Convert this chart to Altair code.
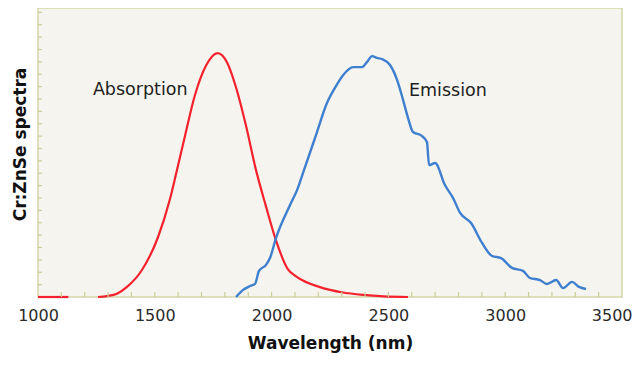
import altair as alt
import pandas as pd

# Absorption (red) — wavelength (nm) and relative intensity
abs_wl = [1000, 1130, 1257, 1295, 1340, 1381, 1445, 1514, 1565, 1595, 1630, 1672,
          1720, 1769, 1810, 1851, 1890, 1933, 1976, 2017, 2070, 2100, 2130, 2220, 2300,
          2391, 2480, 2584]
abs_val = [0.0, 0.0, 0.0, 0.003, 0.012, 0.034, 0.091, 0.202, 0.330, 0.428, 0.545, 0.680,
           0.780, 0.821, 0.789, 0.697, 0.578, 0.428, 0.305, 0.195, 0.093, 0.072, 0.057, 0.030,
           0.016, 0.007, 0.002, 0.0]
abs_part = [0, 0] + [1] * 26

# Emission (blue)
emi_wl = [1848, 1878, 1908, 1929, 1946, 1976, 1993, 2019, 2079, 2109, 2139, 2190,
          2237, 2271, 2306, 2349, 2387, 2408, 2430, 2451, 2473, 2507, 2537, 2563,
          2584, 2605, 2644, 2665, 2674, 2700, 2742, 2777, 2807, 2854, 2901, 2944,
          2982, 3029, 3076, 3106, 3149, 3179, 3218, 3248, 3286, 3316, 3346]
emi_val = [0.0, 0.024, 0.037, 0.044, 0.088, 0.108, 0.131, 0.199, 0.310, 0.360, 0.428, 0.545,
           0.653, 0.704, 0.747, 0.774, 0.774, 0.791, 0.811, 0.805, 0.801, 0.781, 0.731, 0.663,
           0.603, 0.556, 0.542, 0.522, 0.444, 0.451, 0.377, 0.333, 0.283, 0.249, 0.182, 0.138,
           0.131, 0.098, 0.088, 0.064, 0.057, 0.044, 0.057, 0.030, 0.051, 0.034, 0.027]

labels = ["Absorption", "Emission"]
label_wl = [1235, 2588]
label_val = [0.680, 0.677]

x_ticks = list(range(1100, 3500, 100))
x_labels = [1000, 1500, 2000, 2500, 3000, 3500]
y_ticks = [i / 24 for i in range(1, 24)]

abs_df = pd.DataFrame({"wl": abs_wl, "val": abs_val, "part": abs_part})
emi_df = pd.DataFrame({"wl": emi_wl, "val": emi_val})
lab_df = pd.DataFrame({"label": labels, "wl": label_wl, "val": label_val})
xtick_df = pd.DataFrame({"wl": x_ticks})
ytick_df = pd.DataFrame({"val": y_ticks})

FONT = "DejaVu Sans"
TICK_COLOR = "#c9cf98"
PLOT_H = 289
TOP = PLOT_H / 297  # visible fraction of the reference's value range

x_scale = alt.Scale(domain=[1000, 3500], nice=False)
y_scale = alt.Scale(domain=[0, TOP], nice=False)

x_enc = alt.X(
    "wl:Q",
    scale=x_scale,
    axis=alt.Axis(
        title="Wavelength (nm)",
        values=x_labels,
        format="d",
        ticks=False,
        domain=False,
        grid=False,
        labelFont=FONT,
        labelFontSize=16,
        labelColor="#2a2a2a",
        labelFlush=False,
        labelOverlap=False,
        labelBound=False,
        labelBaseline="alphabetic",
        labelAlign={"expr": "datum.value === 3500 ? 'right' : 'center'"},
        labelOffset={"expr": "datum.value === 3500 ? 10 : 0"},
        labelPadding=23,
        titleFont=FONT,
        titleFontSize=17,
        titleFontWeight="bold",
        titleColor="#111111",
        titleBaseline="alphabetic",
        titleY=51,
    ),
)

y_enc = alt.Y(
    "val:Q",
    scale=y_scale,
    axis=alt.Axis(
        title="Cr:ZnSe spectra",
        labels=False,
        ticks=False,
        domain=False,
        grid=False,
        titleFont=FONT,
        titleFontSize=17,
        titleFontWeight="bold",
        titleColor="#111111",
        titleBaseline="alphabetic",
        titleAlign="center",
        titleX=-13,
        titleY=136,
    ),
)

xticks = alt.Chart(xtick_df).mark_rule(color=TICK_COLOR, strokeWidth=1.2).encode(
    x=alt.X("wl:Q", scale=x_scale),
    y=alt.value(PLOT_H),
    y2=alt.value(PLOT_H - 5),
)
yticks = alt.Chart(ytick_df).mark_rule(color=TICK_COLOR, strokeWidth=1.2).encode(
    y=alt.Y("val:Q", scale=y_scale),
    x=alt.value(0),
    x2=alt.value(4),
)

abs_line = alt.Chart(abs_df).mark_line(
    color="#f5222d", strokeWidth=2.2, interpolate="monotone"
).encode(x=x_enc, y=y_enc, detail="part:N")

emi_line = alt.Chart(emi_df).mark_line(
    color="#3f7fcf", strokeWidth=2.4, interpolate="monotone"
).encode(x="wl:Q", y="val:Q")

text = alt.Chart(lab_df).mark_text(
    font=FONT, fontSize=17.5, color="#1e1e1e", align="left", baseline="alphabetic"
).encode(x="wl:Q", y="val:Q", text="label:N")

chart = (
    alt.layer(abs_line, xticks, yticks, emi_line, text)
    .properties(
        width=584,
        height=PLOT_H,
        autosize=alt.AutoSizeParams(type="none"),
        padding={"left": 30, "top": 0, "right": 10, "bottom": 62},
        background="white",
    )
    .configure_view(fill="#f5f4ee", stroke="#d3d8a6", strokeWidth=1.5)
)

chart.save("out.html", embed_options={"renderer": "svg", "actions": False})
